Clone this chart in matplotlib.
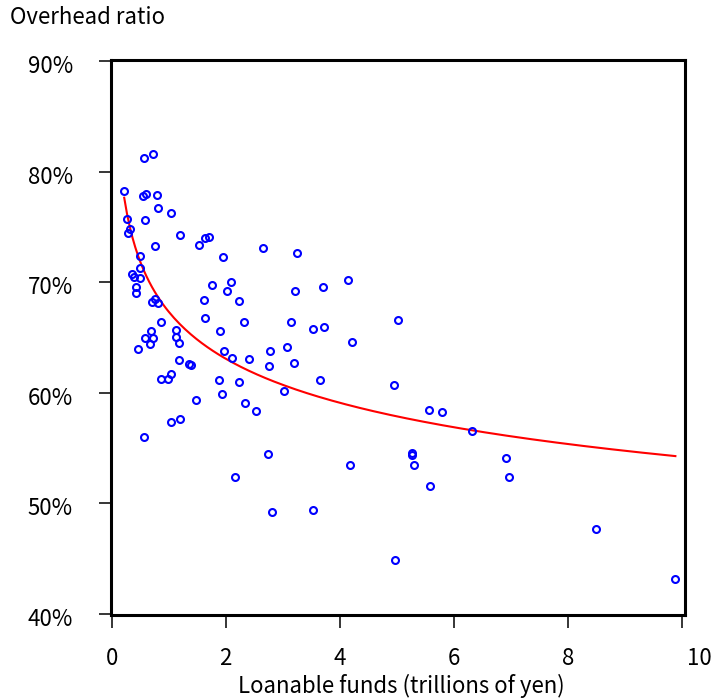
import numpy as np
import matplotlib
matplotlib.use("Agg")
import matplotlib.pyplot as plt
from matplotlib.transforms import ScaledTranslation

# loanable funds (trillions of yen) and overhead ratio (%) per bank
funds = [0.22, 0.57, 0.72, 0.55, 0.60, 0.79, 0.82, 1.04, 0.26, 0.58,
         0.33, 0.29, 1.20, 0.76, 1.535, 1.64, 1.705, 1.96, 0.50, 0.50,
         0.36, 0.39, 0.50, 0.43, 0.42, 1.75, 2.09, 2.02, 0.70, 0.76,
         0.82, 1.62, 1.63, 0.87, 0.69, 0.59, 0.72, 0.68, 0.46, 1.12,
         1.13, 1.18, 1.90, 1.97, 1.18, 1.355, 1.385, 1.875, 1.94, 1.045,
         0.87, 0.99, 1.47, 1.045, 1.20, 0.566,
         2.66, 3.25, 3.22, 3.70, 4.15, 2.24, 2.32, 3.15, 3.52, 3.73,
         4.21, 3.08, 2.78, 2.11, 2.41, 2.76, 3.195, 2.23, 3.66, 3.02,
         2.33, 2.53, 4.95, 2.74, 4.18, 5.26, 5.26, 5.30, 2.16, 2.815,
         3.53, 5.02, 5.555, 5.79, 6.31, 6.915, 6.97, 5.58, 8.49, 4.96,
         9.88]
ratio = [78.3, 81.3, 81.6, 77.8, 78.0, 77.9, 76.7, 76.3, 75.75, 75.65,
         74.8, 74.5, 74.3, 73.3, 73.4, 74.0, 74.1, 72.3, 72.4, 71.3,
         70.8, 70.5, 70.4, 69.6, 69.0, 69.8, 70.0, 69.2, 68.2, 68.5,
         68.1, 68.4, 66.8, 66.4, 65.6, 65.0, 65.0, 64.4, 64.0, 65.7,
         65.1, 64.5, 65.6, 63.8, 63.0, 62.6, 62.5, 61.2, 59.9, 61.7,
         61.3, 61.3, 59.4, 57.4, 57.6, 56.0,
         73.15, 72.7, 69.2, 69.6, 70.25, 68.3, 66.4, 66.45, 65.8, 66.0,
         64.6, 64.2, 63.8, 63.2, 63.1, 62.4, 62.75, 60.97, 61.2, 60.2,
         59.1, 58.4, 60.7, 54.5, 53.5, 54.6, 54.4, 53.5, 52.4, 49.2,
         49.4, 66.6, 58.5, 58.3, 56.6, 54.15, 52.4, 51.55, 47.7, 44.86,
         43.2]

xticks = [0, 2, 4, 6, 8, 10]
yticks = [40, 50, 60, 70, 80, 90]

plt.rcParams['font.family'] = ['Noto Sans CJK JP', 'DejaVu Sans']

fig = plt.figure(figsize=(7.14, 6.98), dpi=100)
ax = fig.add_axes([0.1548, 0.1182, 0.8039, 0.7963])

ax.plot(funds, ratio, 'o', ms=5, mfc='none', mec='blue', mew=1.5, zorder=3)

# power-law fit, log(y) on log(x)
fx = np.array(funds)
fy = np.array(ratio)
b, loga = np.polyfit(np.log(fx), np.log(fy), 1)
xs = np.linspace(fx.min(), fx.max(), 200)
ax.plot(xs, np.exp(loga) * xs ** b, color='red', lw=1.5, zorder=2)

ax.set_xlim(-0.02, 10.04)
ax.set_ylim(39.86, 90.16)
ax.set_xticks(xticks)
ax.set_yticks(yticks)
ax.set_yticklabels([f"{v}%" for v in yticks])

for s in ax.spines.values():
    s.set_linewidth(2.2)
ax.tick_params(axis='both', length=9, width=1.1, labelsize=16)
ax.tick_params(axis='x', pad=14)
ax.tick_params(axis='y', pad=18)

# "10" sits a bit right of its tick in the original
lab = ax.xaxis.get_major_ticks()[-1].label1
lab.set_transform(lab.get_transform() + ScaledTranslation(0.17, 0, fig.dpi_scale_trans))
# y labels sit slightly below their ticks
for t in ax.yaxis.get_major_ticks():
    t.label1.set_transform(t.label1.get_transform() + ScaledTranslation(0, -0.03, fig.dpi_scale_trans))

fig.text(10 / 714, 1 - 18 / 698, "Overhead ratio", fontsize=16, va='center', ha='left')
fig.text(401 / 714, 1 - 686 / 698, "Loanable funds (trillions of yen)", fontsize=16,
         va='center', ha='center')

fig.savefig("out.png")
